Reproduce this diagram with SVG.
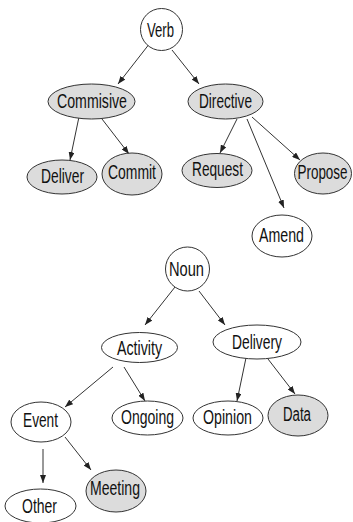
<svg xmlns="http://www.w3.org/2000/svg" width="353" height="522" viewBox="0 0 353 522">
  <style>
    .node ellipse { stroke: #333; stroke-width: 1; fill: #fff; }
    .node.shaded ellipse { fill: #dcdcdc; }
    .node text { font-family: "Liberation Sans", Arial, sans-serif; font-size: 19.5px; fill: #111; text-anchor: middle; }
    #edges line { stroke: #333; stroke-width: 1; marker-end: url(#arrow); }
  </style>
  <defs>
    <marker id="arrow" markerUnits="userSpaceOnUse" markerWidth="8" markerHeight="6" refX="8" refY="3" orient="auto">
      <path d="M0,0 L8,3 L0,6 z" fill="#222"/>
    </marker>
  </defs>
  <rect width="353" height="522" fill="#fff"/>

  <g id="edges">
    <line x1="150" y1="43" x2="118" y2="84"/>
    <line x1="172" y1="50" x2="199" y2="84"/>
    <line x1="80" y1="112" x2="70" y2="160"/>
    <line x1="102" y1="119" x2="129" y2="154"/>
    <line x1="237" y1="119" x2="220" y2="153"/>
    <line x1="247" y1="119" x2="284" y2="208"/>
    <line x1="252" y1="117" x2="300" y2="160"/>
    <line x1="175" y1="287" x2="145" y2="325"/>
    <line x1="199" y1="291" x2="225" y2="325"/>
    <line x1="113" y1="367" x2="65" y2="407"/>
    <line x1="124" y1="367" x2="145" y2="401"/>
    <line x1="247" y1="353" x2="237" y2="401"/>
    <line x1="268" y1="359" x2="295" y2="394"/>
    <line x1="43" y1="449" x2="43" y2="483"/>
    <line x1="65" y1="437" x2="91" y2="470"/>
  </g>

  <g id="verb" class="node"><ellipse cx="161.5" cy="29.5" rx="21" ry="21"/><text x="160.5" y="36.5" textLength="27" lengthAdjust="spacingAndGlyphs">Verb</text></g>
  <g id="commisive" class="node shaded"><ellipse cx="91.5" cy="101.5" rx="43.5" ry="17.5"/><text x="92" y="108" textLength="70" lengthAdjust="spacingAndGlyphs">Commisive</text></g>
  <g id="directive" class="node shaded"><ellipse cx="225.5" cy="101.5" rx="37.5" ry="17.5"/><text x="225.5" y="108" textLength="53" lengthAdjust="spacingAndGlyphs">Directive</text></g>
  <g id="deliver" class="node shaded"><ellipse cx="62" cy="177" rx="35" ry="17"/><text x="62.5" y="183" textLength="43" lengthAdjust="spacingAndGlyphs">Deliver</text></g>
  <g id="commit" class="node shaded"><ellipse cx="132" cy="174" rx="30" ry="21"/><text x="132" y="179" textLength="48" lengthAdjust="spacingAndGlyphs">Commit</text></g>
  <g id="request" class="node shaded"><ellipse cx="217" cy="170.5" rx="35" ry="17"/><text x="217.5" y="176" textLength="51" lengthAdjust="spacingAndGlyphs">Request</text></g>
  <g id="propose" class="node shaded"><ellipse cx="323" cy="173.5" rx="28.5" ry="20.5"/><text x="322.5" y="179" textLength="50" lengthAdjust="spacingAndGlyphs">Propose</text></g>
  <g id="amend" class="node"><ellipse cx="282" cy="236" rx="30" ry="21"/><text x="281.5" y="242" textLength="45" lengthAdjust="spacingAndGlyphs">Amend</text></g>

  <g id="noun" class="node"><ellipse cx="187.5" cy="269" rx="22" ry="22"/><text x="186.5" y="276" textLength="35" lengthAdjust="spacingAndGlyphs">Noun</text></g>
  <g id="activity" class="node"><ellipse cx="139.5" cy="347.5" rx="38" ry="15"/><text x="139.5" y="355" textLength="45" lengthAdjust="spacingAndGlyphs">Activity</text></g>
  <g id="delivery" class="node"><ellipse cx="257" cy="342" rx="44" ry="17"/><text x="257" y="349" textLength="50" lengthAdjust="spacingAndGlyphs">Delivery</text></g>
  <g id="event" class="node"><ellipse cx="41" cy="422" rx="30" ry="20"/><text x="40.5" y="427" textLength="35" lengthAdjust="spacingAndGlyphs">Event</text></g>
  <g id="ongoing" class="node"><ellipse cx="147.5" cy="418" rx="35.5" ry="17"/><text x="147.5" y="424" textLength="53" lengthAdjust="spacingAndGlyphs">Ongoing</text></g>
  <g id="opinion" class="node"><ellipse cx="228" cy="418" rx="35" ry="17"/><text x="227.5" y="424" textLength="49" lengthAdjust="spacingAndGlyphs">Opinion</text></g>
  <g id="data" class="node shaded"><ellipse cx="298" cy="415.5" rx="30" ry="20.5"/><text x="297" y="421" textLength="28" lengthAdjust="spacingAndGlyphs">Data</text></g>
  <g id="meeting" class="node shaded"><ellipse cx="116" cy="491" rx="30" ry="21"/><text x="115" y="495" textLength="50" lengthAdjust="spacingAndGlyphs">Meeting</text></g>
  <g id="other" class="node"><ellipse cx="40.5" cy="506" rx="35.5" ry="17"/><text x="39.5" y="513" textLength="35" lengthAdjust="spacingAndGlyphs">Other</text></g>
</svg>
